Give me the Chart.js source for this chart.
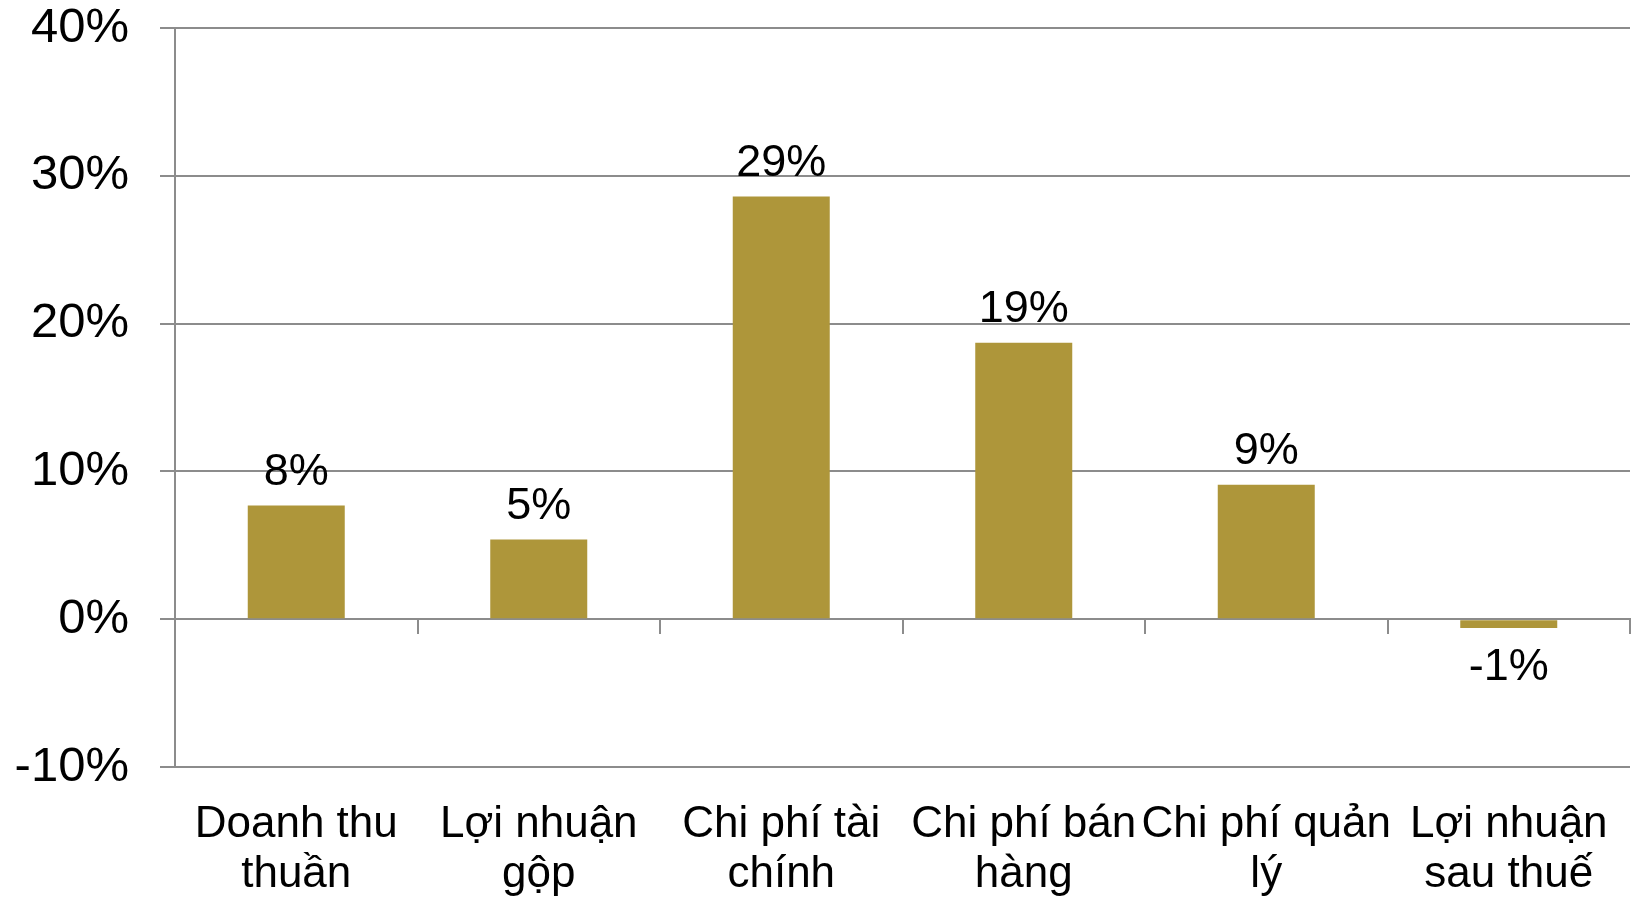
<!DOCTYPE html>
<html>
<head>
<meta charset="utf-8">
<script src="https://cdn.jsdelivr.net/npm/chart.js@4"></script>
<style>
  html, body { margin: 0; padding: 0; background: #fff; }
  #wrap { width: 1637px; height: 900px; }
</style>
</head>
<body>
<div id="wrap"><canvas id="myChart"></canvas></div>
<script>
// categories (two lines each, as in the picture)
const categories = [
  ['Doanh thu', 'thuần'],
  ['Lợi nhuận', 'gộp'],
  ['Chi phí tài', 'chính'],
  ['Chi phí bán', 'hàng'],
  ['Chi phí quản', 'lý'],
  ['Lợi nhuận', 'sau thuế']
];
// growth, in percent
const growth = [7.7, 5.4, 28.6, 18.7, 9.1, -0.6];
const growthLabels = ['8%', '5%', '29%', '19%', '9%', '-1%'];

const yMin = -10;
const yMax = 40;
const yStep = 10;

const barColor = '#ae963a';
const gridColor = '#8c8c8c';
const fontFamily = '"Liberation Sans", Arial, sans-serif';

Chart.defaults.font.family = fontFamily;
Chart.defaults.color = '#000';

// value labels over / under the bars
const barLabels = {
  id: 'barLabels',
  afterDatasetsDraw(chart) {
    const ctx = chart.ctx;
    const meta = chart.getDatasetMeta(0);
    ctx.save();
    ctx.font = '45px ' + fontFamily;
    ctx.fillStyle = '#000';
    ctx.textAlign = 'center';
    ctx.textBaseline = 'middle';
    meta.data.forEach(function(bar, i) {
      const v = growth[i];
      const y = v >= 0 ? bar.y - 33 : bar.y + 40;
      ctx.fillText(growthLabels[i], bar.x, y);
    });
    ctx.restore();
  }
};

new Chart(document.getElementById('myChart'), {
  type: 'bar',
  data: {
    labels: categories,
    datasets: [{
      data: growth,
      backgroundColor: barColor,
      borderWidth: 0,
      categoryPercentage: 1,
      barPercentage: 0.4
    }]
  },
  options: {
    responsive: true,
    maintainAspectRatio: false,
    animation: false,
    events: [],
    layout: { padding: { top: 28, right: 7, left: 15, bottom: 0 } },
    plugins: {
      legend: { display: false },
      tooltip: { enabled: false }
    },
    scales: {
      x: {
        grid: { display: false, drawTicks: false },
        border: { display: false },
        ticks: {
          font: { size: 44, lineHeight: 1.14 },
          padding: 33,
          maxRotation: 0,
          autoSkip: false
        },
        afterFit: function(scale) {
          scale.height = 133;
          scale.paddingLeft = 0;
          scale.paddingRight = 0;
        }
      },
      // category ticks sitting on the 0% line
      x0: {
        type: 'category',
        labels: categories,
        position: { y: 0 },
        offset: true,
        grid: {
          offset: true,
          drawOnChartArea: false,
          drawTicks: true,
          tickLength: 14,
          color: gridColor,
          lineWidth: 2
        },
        border: { display: true, color: gridColor, width: 2 },
        ticks: { display: false }
      },
      y: {
        min: yMin,
        max: yMax,
        ticks: {
          stepSize: yStep,
          font: { size: 49 },
          padding: 31,
          callback: function(v) { return v + '%'; }
        },
        grid: {
          color: gridColor,
          lineWidth: 2,
          tickLength: 15
        },
        border: { display: true, color: gridColor, width: 2 },
        afterFit: function(scale) {
          scale.width = 160;
          scale.paddingTop = 0;
          scale.paddingBottom = 0;
        }
      }
    }
  },
  plugins: [barLabels]
});
</script>
</body>
</html>
